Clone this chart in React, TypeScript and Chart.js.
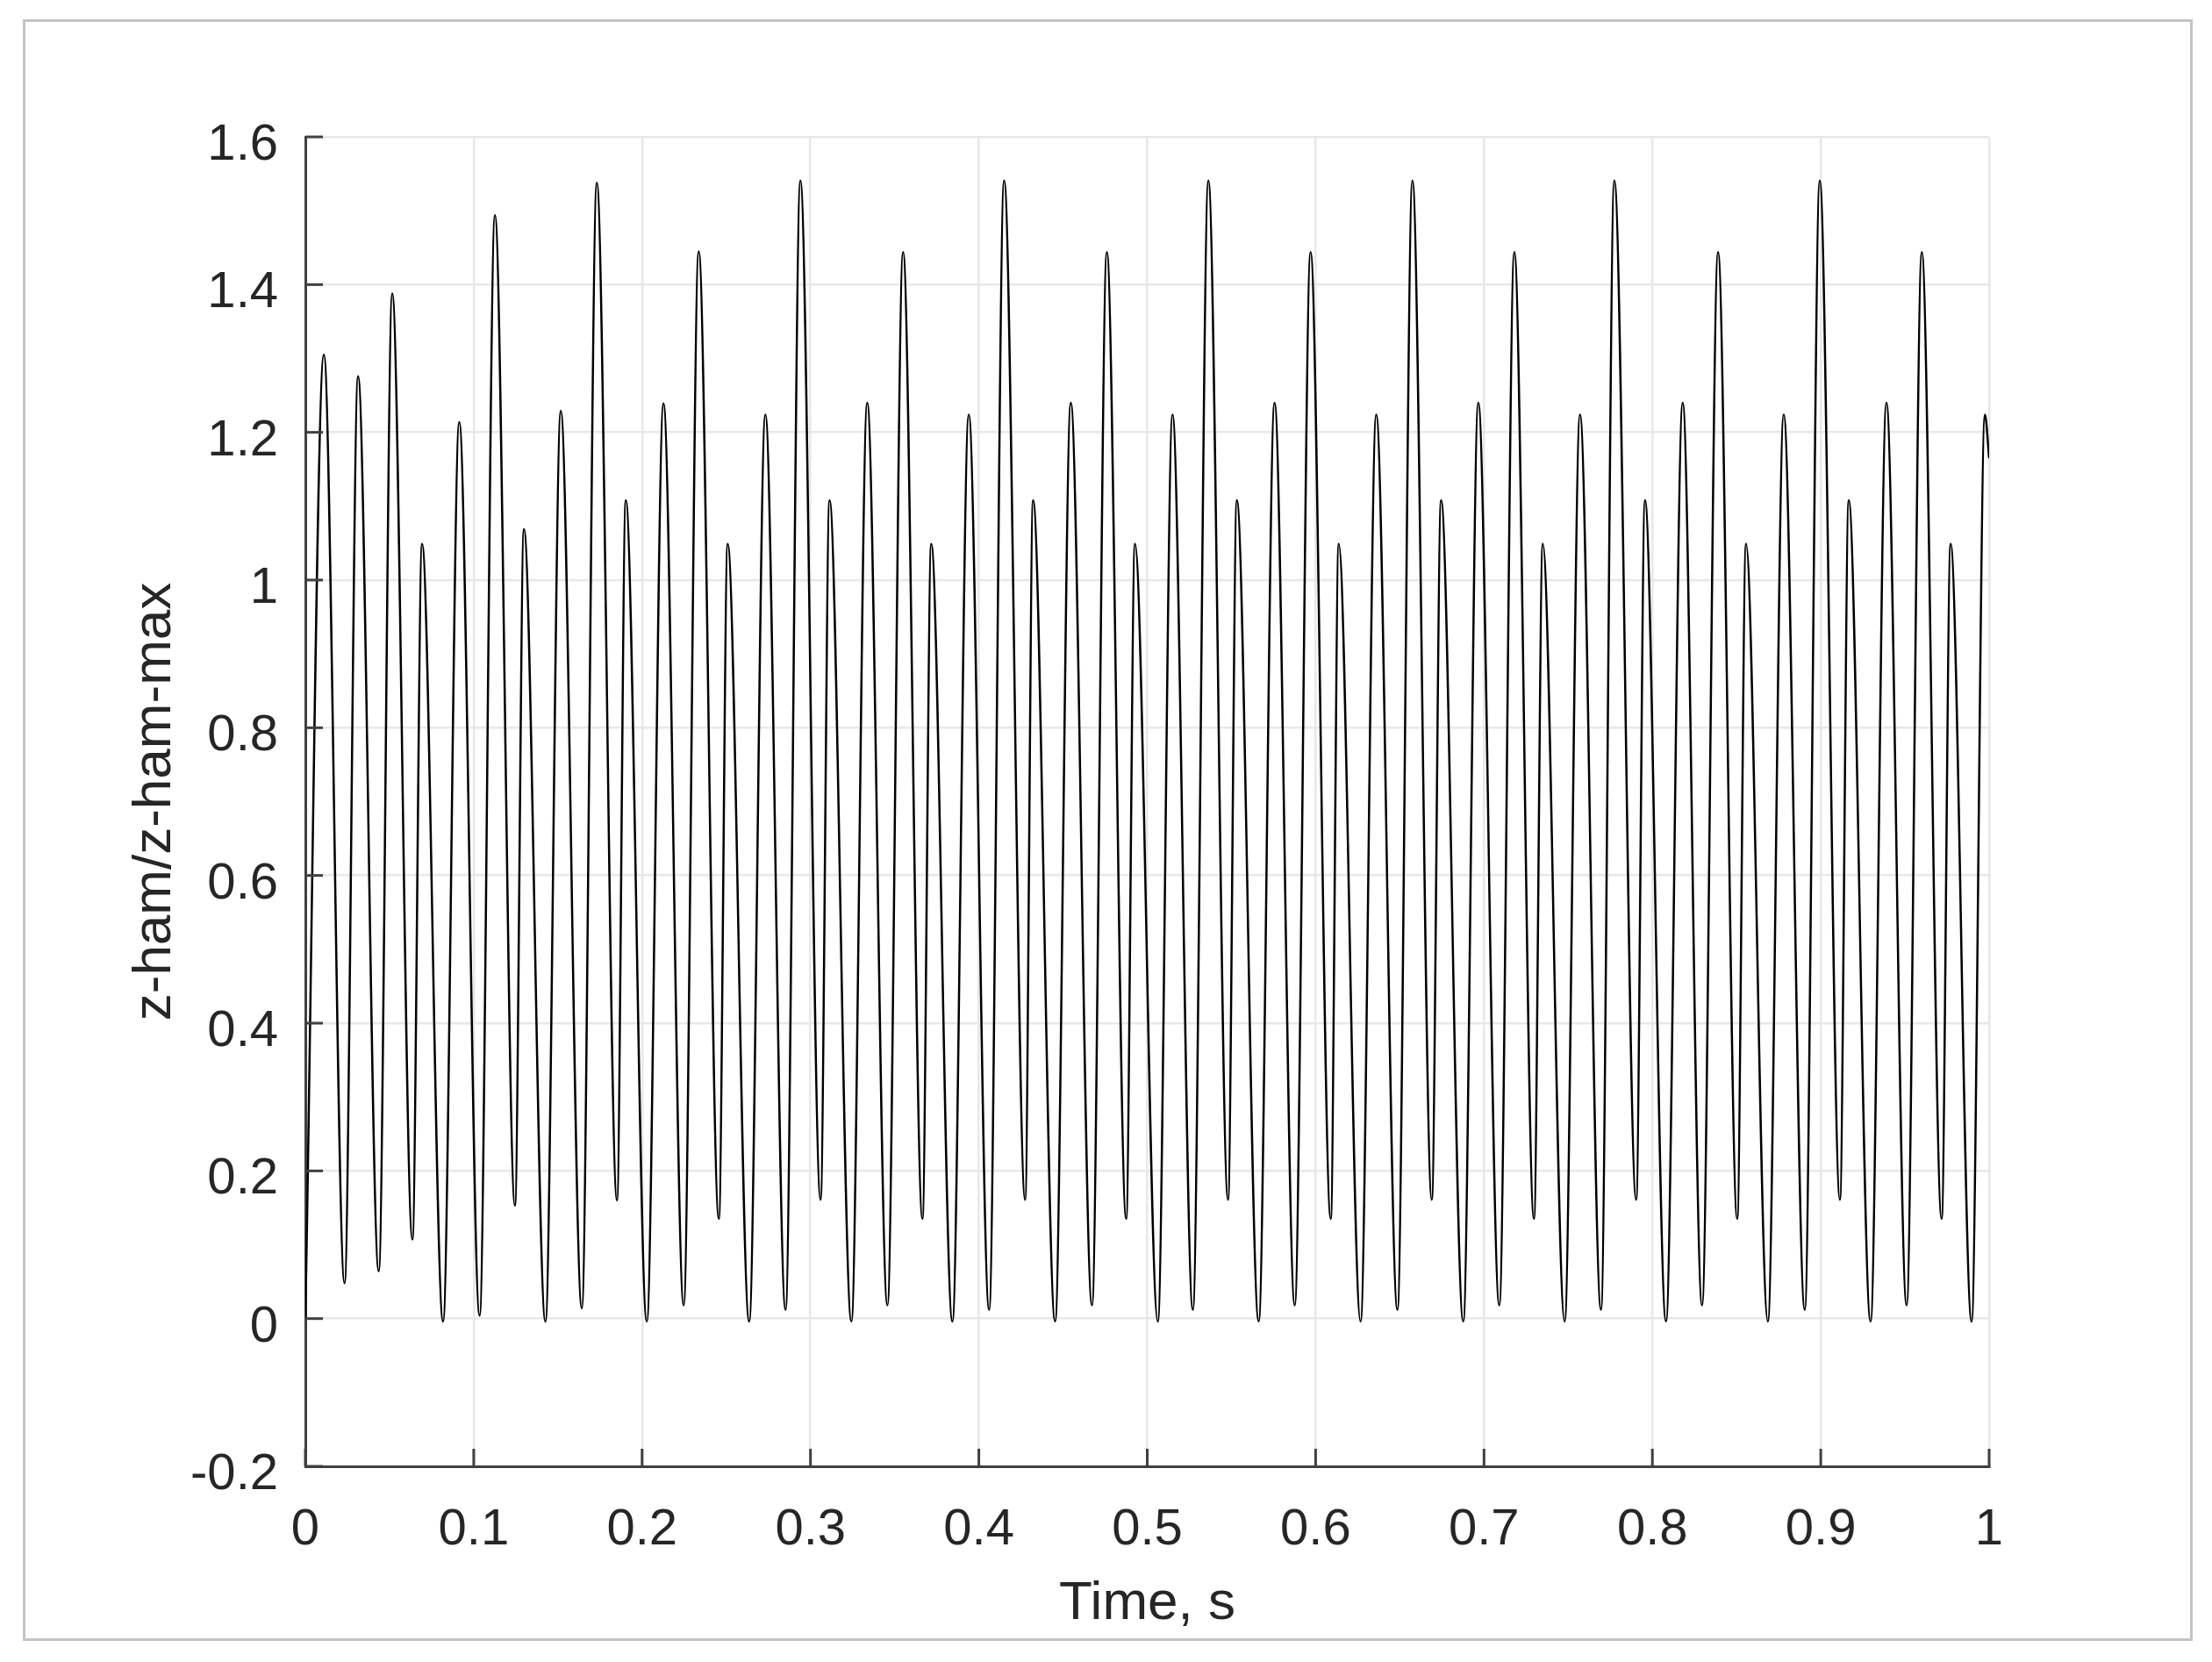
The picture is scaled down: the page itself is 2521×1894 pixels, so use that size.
import React, { useEffect, useRef } from "react";
import { Chart, registerables } from "chart.js";

Chart.register(...registerables);

// Time (s) of each turning point
const times: number[] = [
  0.0, 0.011, 0.0233, 0.0313, 0.0436, 0.0516, 0.0636, 0.0693, 0.0818, 0.0914,
  0.1035, 0.1126, 0.1245, 0.1298, 0.1426, 0.1517, 0.1642, 0.1731, 0.1851, 0.1903,
  0.2028, 0.2127, 0.2247, 0.2336, 0.2456, 0.2508, 0.2636, 0.2732, 0.2852, 0.294,
  0.306, 0.3113, 0.3243, 0.3337, 0.3457, 0.355, 0.3665, 0.3717, 0.3843, 0.394,
  0.4061, 0.415, 0.4275, 0.4322, 0.4453, 0.4546, 0.4672, 0.476, 0.4875, 0.4927,
  0.5063, 0.515, 0.5271, 0.5363, 0.548, 0.5532, 0.5662, 0.5756, 0.5876, 0.597,
  0.609, 0.6137, 0.6267, 0.636, 0.6486, 0.6575, 0.669, 0.6745, 0.6877, 0.6966,
  0.7091, 0.718, 0.7297, 0.7349, 0.7479, 0.757, 0.7695, 0.7774, 0.7904, 0.7956,
  0.8081, 0.818, 0.8295, 0.839, 0.8504, 0.8556, 0.8686, 0.878, 0.8905, 0.8994,
  0.9114, 0.9166, 0.9296, 0.939, 0.951, 0.96, 0.9718, 0.9771, 0.9896, 0.9975,
  1.0,
];

// z-ham / z-ham-max at those times
const zRatio: number[] = [
  0.0, 1.305, 0.048, 1.276, 0.064, 1.388, 0.107, 1.049, -0.004, 1.214,
  0.004, 1.494, 0.153, 1.069, -0.004, 1.229, 0.014, 1.538, 0.16, 1.108,
  -0.004, 1.239, 0.018, 1.445, 0.135, 1.049, -0.004, 1.224, 0.012, 1.541,
  0.161, 1.108, -0.004, 1.24, 0.018, 1.444, 0.135, 1.049, -0.004, 1.224,
  0.012, 1.541, 0.161, 1.108, -0.004, 1.24, 0.018, 1.444, 0.135, 1.049,
  -0.004, 1.224, 0.012, 1.541, 0.161, 1.108, -0.004, 1.24, 0.018, 1.444,
  0.135, 1.049, -0.004, 1.224, 0.012, 1.541, 0.161, 1.108, -0.004, 1.24,
  0.018, 1.444, 0.135, 1.049, -0.004, 1.224, 0.012, 1.541, 0.161, 1.108,
  -0.004, 1.24, 0.018, 1.444, 0.135, 1.049, -0.004, 1.224, 0.012, 1.541,
  0.161, 1.108, -0.004, 1.24, 0.018, 1.444, 0.135, 1.049, -0.004, 1.224,
  1.165,
];

const xTickLabels: string[] = ["0", "0.1", "0.2", "0.3", "0.4", "0.5", "0.6", "0.7", "0.8", "0.9", "1"];
const yTickLabels: string[] = ["-0.2", "0", "0.2", "0.4", "0.6", "0.8", "1", "1.2", "1.4", "1.6"];

const xTitle = "Time, s";
const yTitle = "z-ham/z-ham-max";

const W = 2521;
const H = 1894;
const FONT = "'Liberation Sans', Arial, Helvetica, sans-serif";
const TEXT = "#262626";
const AXIS = "#404040";
const GRID = "#e8e8e8";

const insideTicks = {
  id: "insideTicks",
  afterDraw(chart: any) {
    const { ctx, chartArea, scales } = chart;
    const len = 20;
    ctx.save();
    ctx.strokeStyle = AXIS;
    ctx.lineWidth = 3;
    scales.y.ticks.forEach((t: any) => {
      const py = scales.y.getPixelForValue(t.value);
      ctx.beginPath();
      ctx.moveTo(chartArea.left, py);
      ctx.lineTo(chartArea.left + len, py);
      ctx.stroke();
    });
    scales.x.ticks.forEach((t: any) => {
      const px = scales.x.getPixelForValue(t.value);
      ctx.beginPath();
      ctx.moveTo(px, chartArea.bottom);
      ctx.lineTo(px, chartArea.bottom - len);
      ctx.stroke();
    });
    ctx.restore();
  },
};

export default function App() {
  const ref = useRef<HTMLCanvasElement | null>(null);

  useEffect(() => {
    document.body.style.margin = "0";
    const canvas = ref.current;
    if (!canvas) return;
    const chart = new Chart(canvas, {
      type: "line",
      data: {
        datasets: [
          {
            data: times.map((t, i) => ({ x: t, y: zRatio[i] })),
            borderColor: "#000000",
            borderWidth: 2.5,
            pointRadius: 0,
            fill: false,
            cubicInterpolationMode: "monotone",
          },
        ],
      },
      options: {
        animation: false,
        responsive: false,
        devicePixelRatio: 1,
        layout: { padding: { left: 0, top: 156, right: 254, bottom: 0 } },
        plugins: { legend: { display: false }, tooltip: { enabled: false } },
        scales: {
          x: {
            type: "linear",
            min: 0,
            max: 1,
            afterFit: (s: any) => {
              s.height = H - 1671;
            },
            ticks: {
              stepSize: 0.1,
              padding: 38,
              color: TEXT,
              font: { family: FONT, size: 58 },
              maxRotation: 0,
              autoSkip: false,
              callback: (_v: any, i: number) => xTickLabels[i],
            },
            grid: { color: GRID, lineWidth: 2.5, drawTicks: false },
            border: { display: true, color: AXIS, width: 3 },
            title: {
              display: true,
              text: xTitle,
              color: TEXT,
              font: { family: FONT, size: 62 },
              padding: { top: 0, bottom: 29 },
            },
          },
          y: {
            type: "linear",
            min: -0.2,
            max: 1.6,
            afterFit: (s: any) => {
              s.width = 348;
            },
            ticks: {
              stepSize: 0.2,
              padding: 31,
              labelOffset: 10,
              color: TEXT,
              font: { family: FONT, size: 58 },
              autoSkip: false,
              callback: (_v: any, i: number) => yTickLabels[i],
            },
            grid: { color: GRID, lineWidth: 2.5, drawTicks: false },
            border: { display: true, color: AXIS, width: 3 },
            title: {
              display: true,
              text: yTitle,
              color: TEXT,
              font: { family: FONT, size: 62 },
              padding: { top: 140, bottom: 0 },
            },
          },
        },
      },
      plugins: [insideTicks],
    } as any);
    return () => chart.destroy();
  }, []);

  return (
    <div style={{ position: "relative", width: W, height: H, background: "#ffffff" }}>
      <canvas ref={ref} width={W} height={H} style={{ position: "absolute", left: 0, top: 0, width: W, height: H }} />
      <div
        style={{
          position: "absolute",
          left: 26,
          top: 22,
          width: 2473,
          height: 1848,
          boxSizing: "border-box",
          border: "3px solid #c4c4c4",
          pointerEvents: "none",
        }}
      />
    </div>
  );
}
